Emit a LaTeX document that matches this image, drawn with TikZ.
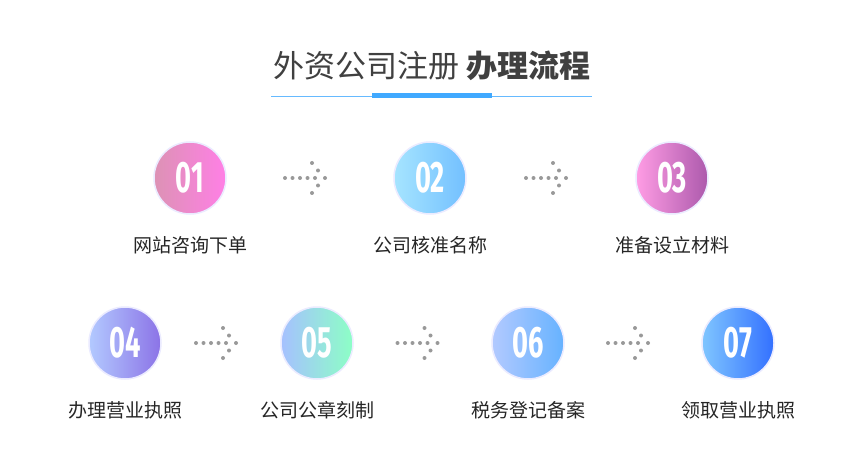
\documentclass[tikz,border=0pt]{standalone}
\usepackage{fontspec}
\setmainfont{Fira Sans}
\newfontfamily\cjk{Noto Sans CJK SC}
\usetikzlibrary{calc}

\tikzset{
  stepball/.style 2 args={circle, minimum size=72pt, inner sep=0pt, shading=axis, shading angle=135, left color=#1, right color=#2, draw=blue!8, line width=1.5pt},
  numtxt/.style={text=white, font=\fontsize{44}{44}\bfseries},
  steplabel/.style={font=\cjk\fontsize{19}{19}\selectfont, text=black!85},
  dotarrow/.style={fill=black!40}
}
\newcommand{\dotarrow}[1]{%
  \foreach \i in {0,...,4}{\fill[dotarrow] ($(#1)+(\i*7.5-25,0)$) circle (2pt);}
  \foreach \dx/\dy in {-2/-15,4/-7.5,11/0,4/7.5,-2/15}{\fill[dotarrow] ($(#1)+(\dx+4,\dy)$) circle (2pt);}
}

\begin{document}
\begin{tikzpicture}[x=1pt,y=-1pt]
	\useasboundingbox (0,0) rectangle (850,470);
	\fill[white] (0,0) rectangle (850,470);

	% title
	\node[font=\cjk\fontsize{31}{31}\selectfont, text=black!75] (title) at (432,66) {外资公司注册 {\bfseries 办理流程}};
	\coordinate (lineL) at (271,96);
	\coordinate (lineR) at (592,96);
	\draw[blue!45!cyan!60!white, line width=0.8pt] (lineL) -- (lineR);
	\fill[blue!45!cyan!75!white] (372,93.5) rectangle (492,98);

	% row one
	\node[stepball={violet!30!pink!90!white}{magenta!50!pink!80!white}] (s1) at (190,178) {};
	\node[stepball={blue!30!cyan!35!white}{blue!45!cyan!55!white}] (s2) at (430,178) {};
	\node[stepball={magenta!40!pink!70!white}{violet!65!white}] (s3) at (672,178) {};
	% row two
	\node[stepball={cyan!30!blue!30!white}{violet!35!blue!55!white}] (s4) at (125,343) {};
	\node[stepball={cyan!30!blue!35!white}{green!50!cyan!45!white}] (s5) at (317,343) {};
	\node[stepball={cyan!30!blue!30!white}{blue!50!cyan!60!white}] (s6) at (528,343) {};
	\node[stepball={blue!45!cyan!50!white}{blue!70!cyan!80!white}] (s7) at (738,343) {};

	\foreach \n/\t in {s1/01,s2/02,s3/03,s4/04,s5/05,s6/06,s7/07}{
		\node[numtxt, xscale=0.62] at (\n) {\t};
	}

	\node[steplabel] (l1) at (190,245) {网站咨询下单};
	\node[steplabel] (l2) at (430,245) {公司核准名称};
	\node[steplabel] (l3) at (672,245) {准备设立材料};
	\node[steplabel] (l4) at (125,410) {办理营业执照};
	\node[steplabel] (l5) at (317,410) {公司公章刻制};
	\node[steplabel] (l6) at (528,410) {税务登记备案};
	\node[steplabel] (l7) at (738,410) {领取营业执照};

	\dotarrow{$(s1)!0.5!(s2)$}
	\dotarrow{$(s2)!0.5!(s3)$}
	\dotarrow{$(s4)!0.5!(s5)$}
	\dotarrow{$(s5)!0.5!(s6)$}
	\dotarrow{$(s6)!0.5!(s7)$}
\end{tikzpicture}
\end{document}
